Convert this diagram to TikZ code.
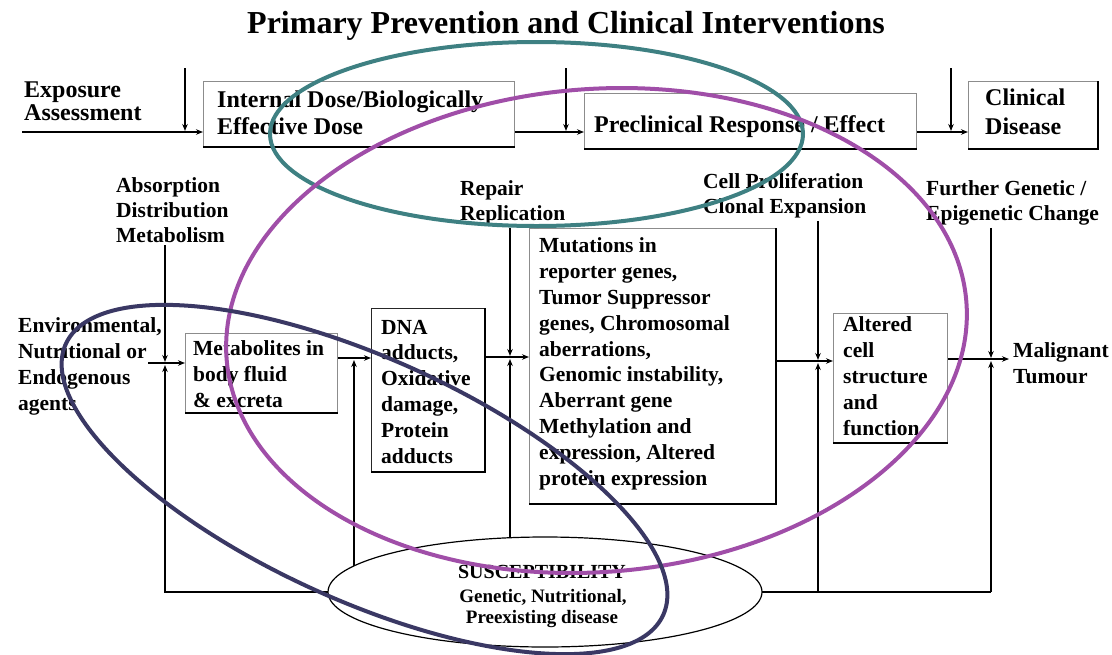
\documentclass[tikz,border=0pt]{standalone}
\usepackage{fontspec}
\setmainfont{Liberation Serif}
\usetikzlibrary{arrows.meta,shapes.geometric,backgrounds}
\definecolor{annteal}{HTML}{3E8082}
\definecolor{annpurple}{HTML}{A04EA8}
\definecolor{annnavy}{HTML}{3A3864}
\tikzset{
  conn/.style={line width=1.2pt, black},
  arr/.style={conn, -{Stealth[length=7pt,width=5.5pt]}},
  boxsh/.style={draw=black!45, line width=1.2pt, fill=white, inner sep=0pt, anchor=north west},
  boxedge/.style={line width=1.8pt, black},
  txt/.style={anchor=base west, align=left, inner sep=0pt},
  topf/.style={font=\bfseries\fontsize{24}{27}\selectfont},
  midf/.style={font=\bfseries\fontsize{21.5}{25.8}\selectfont},
  lblf/.style={font=\bfseries\fontsize{21.5}{25}\selectfont},
  lbl/.style={txt, midf, inner ysep=3pt},
  ann/.style={line width=4pt},
}
\begin{document}
\begin{tikzpicture}[x=1pt,y=-1pt]
\useasboundingbox (0,0) rectangle (1112,654);
\node[anchor=base, font=\bfseries\fontsize{32}{34}\selectfont] (title) at (566,33) {Primary Prevention and Clinical Interventions};

% boxes
\node[boxsh, minimum width=311pt, minimum height=65pt] (idose) at (203,81) {};
\node[boxsh, minimum width=332pt, minimum height=55pt] (precl) at (584,93) {};
\node[boxsh, minimum width=129pt, minimum height=67pt] (clin) at (968,81) {};
\node[boxsh, minimum width=152pt, minimum height=79pt] (metab) at (185,333) {};
\node[boxsh, draw=black!85, minimum width=113pt, minimum height=163pt] (dna) at (371,308) {};
\node[boxsh, minimum width=246pt, minimum height=275pt] (mut) at (529,228) {};
\node[boxsh, minimum width=114pt, minimum height=129pt] (alt) at (833,313) {};
\foreach \n in {idose,precl,metab,alt}
  \draw[boxedge] (\n.south west) -- (\n.south east);
\foreach \n in {clin,dna,mut}
  \draw[boxedge] (\n.south west) -- (\n.south east) -- (\n.north east);

% texts (base anchor = baseline of the last line)
\node[txt, font=\bfseries\fontsize{24}{23}\selectfont] (expo) at (24,120) {Exposure\\Assessment};
\node[txt, topf] (idoset) at (217,134) {Internal Dose/Biologically\\Effective Dose};
\node[txt, topf] (preclt) at (594,132) {Preclinical Response / Effect};
\node[txt, font=\bfseries\fontsize{24}{29}\selectfont] (clint) at (985,134) {Clinical\\Disease};

\node[lbl, lblf] (absl) at (116,242) {Absorption\\Distribution\\Metabolism};
\node[lbl, lblf] (repl) at (460,220) {Repair\\Replication};
\node[lbl, lblf] (celll) at (703,213) {Cell Proliferation\\Clonal Expansion};
\node[lbl, lblf] (furl) at (926,220) {Further Genetic /\\Epigenetic Change};
\node[lbl] (envl) at (18,410) {Environmental,\\Nutritional or\\Endogenous\\agents};
\node[txt, midf] (metabt) at (193,407) {Metabolites in\\body fluid\\\& excreta};
\node[txt, midf] (dnat) at (381,463) {DNA\\adducts,\\Oxidative\\damage,\\Protein\\adducts};
\node[txt, midf] (mutt) at (539,485) {Mutations in\\reporter genes,\\Tumor Suppressor\\genes, Chromosomal\\aberrations,\\Genomic instability,\\Aberrant gene\\Methylation and\\expression, Altered\\protein expression};
\node[txt, midf] (altt) at (843,435) {Altered\\cell\\structure\\and\\function};
\node[lbl] (malt) at (1013,383) {Malignant\\Tumour};

% susceptibility
\node[draw, ellipse, line width=1.2pt, fill=white, minimum width=434pt, minimum height=110pt, inner sep=0pt] (susc) at (545,592) {};
\node[anchor=base, font=\bfseries\fontsize{20}{21}\selectfont] (susct) at (542,578) {SUSCEPTIBILITY};
\node[anchor=base, font=\bfseries\fontsize{19}{21}\selectfont] (susgen) at (543,602) {Genetic, Nutritional,};
\node[anchor=base, font=\bfseries\fontsize{19}{21}\selectfont] (suspre) at (542,623) {Preexisting disease};

% coordinates
\coordinate (e0) at (22,132);
\coordinate (v1) at (185,68); \coordinate (v1e) at (185,131);
\coordinate (v2) at (566,68); \coordinate (v2e) at (566,131);
\coordinate (v3) at (951,68); \coordinate (v3e) at (951,131);
\coordinate (jA) at (165,363); \coordinate (jAt) at (165,362); \coordinate (jAb) at (165,365);
\coordinate (envs) at (148,363);
\coordinate (jB) at (354,358); \coordinate (jBb) at (354,360);
\coordinate (jC) at (510,357); \coordinate (jCt) at (510,356); \coordinate (jCb) at (510,359);
\coordinate (jD) at (818,361); \coordinate (jDt) at (818,360); \coordinate (jDb) at (818,363);
\coordinate (jE) at (991,359); \coordinate (jEt) at (991,358); \coordinate (jEb) at (991,361);
\coordinate (mE) at (1009,359);
\coordinate (bl) at (165,592); \coordinate (br) at (991,592);

% top row connectors
\draw[arr] (e0) -- (e0 -| idose.west);
\draw[arr] (v1) -- (v1e);
\draw[arr] (idose.east |- e0) -- (precl.west |- e0);
\draw[arr] (v2) -- (v2e);
\draw[arr] (precl.east |- e0) -- (clin.west |- e0);
\draw[arr] (v3) -- (v3e);

% middle connectors
\draw[arr] (envs) -- (metab.west |- jA);
\draw[arr] (absl.south -| jA) -- (jAt);
\draw[arr] (metab.east |- jB) -- (dna.west |- jB);
\draw[arr] (dna.east |- jC) -- (mut.west |- jC);
\draw[arr] (repl.south -| jC) -- (jCt);
\draw[arr] (mut.east |- jD) -- (alt.west |- jD);
\draw[arr] (celll.south -| jD) -- (jDt);
\draw[arr] (alt.east |- jE) -- (mE);
\draw[arr] (furl.south -| jE) -- (jEt);

\begin{scope}[on background layer]
  \draw[arr] (susc.center) -- (bl) -- (jAb);
  \draw[arr] (jB |- susc.center) -- (jBb);
  \draw[arr] (jC |- susc.center) -- (jCb);
  \draw[conn] (susc.center) -- (br);
  \draw[arr] (jD |- susc.center) -- (jDb);
  \draw[arr] (br) -- (jEb);
\end{scope}

% annotations
\draw[ann, annteal] (536.5,134) ellipse [x radius=266.5, y radius=92];
\draw[ann, annpurple, rotate around={4.4:(596.5,330.5)}] (596.5,330.5) ellipse [x radius=371, y radius=241.5];
\draw[ann, annnavy, rotate around={-24.4:(364.5,479.5)}] (364.5,479.5) ellipse [x radius=328, y radius=121];
\end{tikzpicture}
\end{document}
